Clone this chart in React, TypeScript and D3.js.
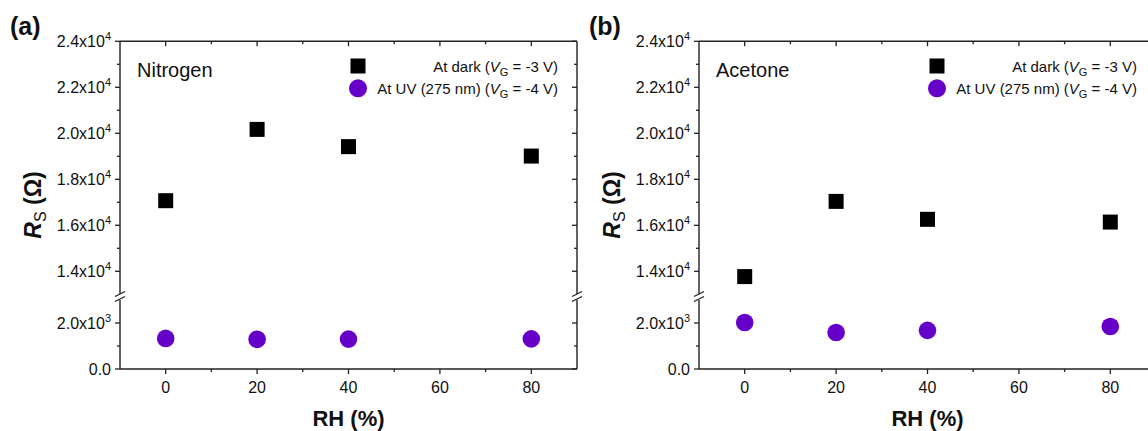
import React from "react";
import * as d3 from "d3";

const rhValues = [0, 20, 40, 80];
const nitrogenDark = [17070, 20170, 19420, 19010];
const nitrogenUV = [1330, 1290, 1300, 1310];
const acetoneDark = [13770, 17040, 16260, 16140];
const acetoneUV = [2020, 1590, 1680, 1850];
const xTicks = [0, 20, 40, 60, 80];
const xMinorTicks = [10, 30, 50, 70];
const yUpperTicks = [14000, 16000, 18000, 20000, 22000, 24000];
const yUpperMinor = [15000, 17000, 19000, 21000, 23000];
const yLowerTicks = [0, 2000];
const yLowerMinor = [1000];
const panelLetters = ["(a)", "(b)"];
const gasLabels = ["Nitrogen", "Acetone"];
const legendDark = ["At dark (", "V", "G", " = -3 V)"];
const legendUV = ["At UV (275 nm) (", "V", "G", " = -4 V)"];

const FONT = "'Liberation Sans', Arial, sans-serif";
const AXIS = "#222";
const PURPLE = "#6600c8";

const TOP = 41.3;
const BOTTOM = 369;
const yUpper = d3.scaleLinear().domain([13000, 24000]).range([294.3, TOP]);
const yLower = d3.scaleLinear().domain([0, 3000]).range([BOTTOM, 300]);
const yScale = (v: number) => (v >= 8000 ? yUpper(v) : yLower(v));
const BREAK_Y = 297;

function fmtTick(v: number) {
  if (v === 0) return { base: "0.0", exp: "" };
  const e = Math.floor(Math.log10(v));
  const m = v / Math.pow(10, e);
  return { base: m.toFixed(1) + "x10", exp: String(e) };
}

function Panel({ idx, left, right, dark, uv }: { idx: number; left: number; right: number; dark: number[]; uv: number[] }) {
  const x = d3.scaleLinear().domain([-10, 90]).range([left, right]);
  const allMajorY = [...yLowerTicks, ...yUpperTicks];
  const allMinorY = [...yLowerMinor, ...yUpperMinor];
  const sq = 15;
  const r = 8.8;
  const legX = left + 238;
  const legTextX = left + 438;
  const midX = (left + right) / 2;
  const breakMark = (cx: number) => (
    <g key={"b" + cx}>
      <rect x={cx - 6} y={BREAK_Y - 3} width={12} height={6} fill="white" />
      <line x1={cx - 5} y1={BREAK_Y - 0.5} x2={cx + 5} y2={BREAK_Y - 5.5} stroke={AXIS} strokeWidth={1.3} />
      <line x1={cx - 5} y1={BREAK_Y + 4.5} x2={cx + 5} y2={BREAK_Y - 0.5} stroke={AXIS} strokeWidth={1.3} />
    </g>
  );
  return (
    <g fontFamily={FONT}>
      <line x1={left} y1={TOP} x2={right} y2={TOP} stroke={AXIS} strokeWidth={1.4} />
      <line x1={left} y1={BOTTOM} x2={right} y2={BOTTOM} stroke={AXIS} strokeWidth={1.4} />
      <line x1={left} y1={TOP} x2={left} y2={BOTTOM} stroke={AXIS} strokeWidth={1.4} />
      <line x1={right} y1={TOP} x2={right} y2={BOTTOM} stroke={AXIS} strokeWidth={1.4} />
      {xTicks.map((t) => (
        <g key={"xt" + t}>
          <line x1={x(t)} x2={x(t)} y1={BOTTOM} y2={BOTTOM + 5} stroke={AXIS} strokeWidth={1.3} />
          <line x1={x(t)} x2={x(t)} y1={TOP} y2={TOP + 5} stroke={AXIS} strokeWidth={1.3} />
          <text x={x(t)} y={393} textAnchor="middle" fontSize={16} fill="#111">{t}</text>
        </g>
      ))}
      {xMinorTicks.map((t) => (
        <g key={"xm" + t}>
          <line x1={x(t)} x2={x(t)} y1={BOTTOM} y2={BOTTOM + 3} stroke={AXIS} strokeWidth={1.3} />
          <line x1={x(t)} x2={x(t)} y1={TOP} y2={TOP + 3} stroke={AXIS} strokeWidth={1.3} />
        </g>
      ))}
      {allMajorY.map((t) => {
        const f = fmtTick(t);
        const yy = yScale(t);
        return (
          <g key={"yt" + t}>
            <line x1={left - 5} x2={left} y1={yy} y2={yy} stroke={AXIS} strokeWidth={1.3} />
            <line x1={right - 5} x2={right} y1={yy} y2={yy} stroke={AXIS} strokeWidth={1.3} />
            <text x={left - 9} y={yy + 5.5} textAnchor="end" fontSize={16} fill="#111">
              {f.base}
              {f.exp && <tspan dy={-7} fontSize={11}>{f.exp}</tspan>}
            </text>
          </g>
        );
      })}
      {allMinorY.map((t) => (
        <g key={"ym" + t}>
          <line x1={left - 3} x2={left} y1={yScale(t)} y2={yScale(t)} stroke={AXIS} strokeWidth={1.3} />
          <line x1={right - 3} x2={right} y1={yScale(t)} y2={yScale(t)} stroke={AXIS} strokeWidth={1.3} />
        </g>
      ))}
      {breakMark(left)}
      {breakMark(right)}
      {rhValues.map((rh, i) => (
        <rect key={"d" + i} x={x(rh) - sq / 2} y={yScale(dark[i]) - sq / 2} width={sq} height={sq} fill="#000" />
      ))}
      {rhValues.map((rh, i) => (
        <circle key={"u" + i} cx={x(rh)} cy={yScale(uv[i])} r={r} fill={PURPLE} />
      ))}
      <text x={left + 17} y={76.5} fontSize={20} fill="#111">{gasLabels[idx]}</text>
      <rect x={legX - 7.5} y={66 - 7.5} width={15} height={15} fill="#000" />
      <circle cx={legX} cy={88.3} r={9} fill={PURPLE} />
      <text x={legTextX} y={71.5} textAnchor="end" fontSize={15} fill="#111">
        {legendDark[0]}
        <tspan fontStyle="italic">{legendDark[1]}</tspan>
        <tspan dy={4} fontSize={11}>{legendDark[2]}</tspan>
        <tspan dy={-4}>{legendDark[3]}</tspan>
      </text>
      <text x={legTextX} y={94} textAnchor="end" fontSize={15} fill="#111">
        {legendUV[0]}
        <tspan fontStyle="italic">{legendUV[1]}</tspan>
        <tspan dy={4} fontSize={11}>{legendUV[2]}</tspan>
        <tspan dy={-4}>{legendUV[3]}</tspan>
      </text>
      <text x={midX} y={426} textAnchor="middle" fontSize={22} fontWeight="bold" fill="#111">RH (%)</text>
      <text transform={`translate(${left - 79},205) rotate(-90)`} textAnchor="middle" fontSize={23} fontWeight="bold" fill="#111">
        <tspan fontStyle="italic">R</tspan>
        <tspan dy={5} fontSize={16} fontWeight="normal">S</tspan>
        <tspan dy={-5}> (Ω)</tspan>
      </text>
      <text x={left - 110} y={35} fontSize={25} fontWeight="bold" fill="#111">{panelLetters[idx]}</text>
    </g>
  );
}

export default function App() {
  return (
    <svg width={1148} height={431} style={{ position: "absolute", left: 0, top: 0, background: "white" }}>
      <rect width={1148} height={431} fill="white" />
      <Panel idx={0} left={120} right={577} dark={nitrogenDark} uv={nitrogenUV} />
      <Panel idx={1} left={699} right={1156} dark={acetoneDark} uv={acetoneUV} />
    </svg>
  );
}
